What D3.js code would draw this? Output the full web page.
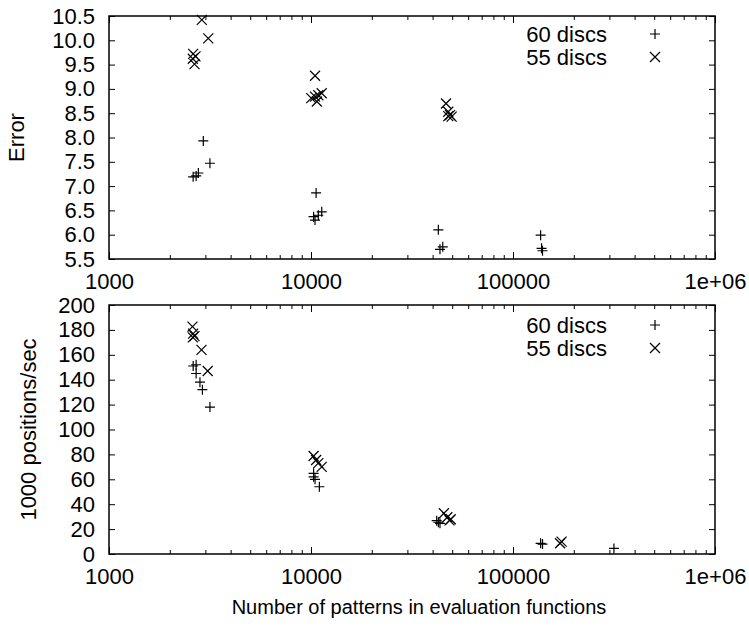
<!DOCTYPE html>
<html>
<head>
<meta charset="utf-8">
<script src="https://cdn.jsdelivr.net/npm/d3@7"></script>
<style>
  html, body { margin: 0; padding: 0; background: #fff; }
  svg { display: block; }
  text { font-family: "Liberation Sans", Arial, Helvetica, sans-serif; fill: #000; }
</style>
</head>
<body>
<svg id="chart" width="749" height="628"></svg>
<script>
// ---------------- data ----------------
const xTickValues = [1000, 10000, 100000, 1000000];
const xTickLabels = ["1000", "10000", "100000", "1e+06"];
const errTickValues = [5.5, 6.0, 6.5, 7.0, 7.5, 8.0, 8.5, 9.0, 9.5, 10.0, 10.5];
const errTickLabels = ["5.5", "6.0", "6.5", "7.0", "7.5", "8.0", "8.5", "9.0", "9.5", "10.0", "10.5"];
const speedTickValues = [0, 20, 40, 60, 80, 100, 120, 140, 160, 180, 200];
const speedTickLabels = ["0", "20", "40", "60", "80", "100", "120", "140", "160", "180", "200"];
const seriesNames = ["60 discs", "55 discs"];
const xLabel = "Number of patterns in evaluation functions";
const errLabel = "Error";
const speedLabel = "1000 positions/sec";

// Error plot: [patterns, error]
const err60 = [
  [2930, 7.93], [3160, 7.47], [2610, 7.19], [2700, 7.21], [2770, 7.27],
  [10600, 6.86], [10300, 6.37], [10470, 6.30], [10870, 6.40], [11300, 6.47],
  [42700, 6.10], [43500, 5.70], [44900, 5.75],
  [137000, 5.99], [138500, 5.72], [140000, 5.67]
];
const err55 = [
  [2880, 10.42], [3100, 10.04], [2610, 9.72], [2680, 9.67], [2600, 9.62], [2650, 9.51],
  [10470, 9.27], [10030, 8.81], [10470, 8.84], [10870, 8.87], [11300, 8.91], [10690, 8.74],
  [46600, 8.70], [47800, 8.53], [48800, 8.46], [49700, 8.43], [47800, 8.44]
];
// Speed plot: [patterns, 1000 positions/sec]
const speed60 = [
  [2610, 151], [2700, 152], [2700, 145], [2820, 138], [2900, 132], [3160, 118],
  [10300, 64.8], [10300, 62], [10470, 60], [11000, 54],
  [41900, 26.8], [43500, 24.6], [42700, 25.5],
  [137000, 8.6], [140000, 8.0],
  [316000, 4.5]
];
const speed55 = [
  [2590, 182.6], [2610, 177], [2650, 175], [2600, 174], [2870, 164], [3080, 147],
  [10300, 78.7], [10600, 75.5], [10870, 73], [11300, 70],
  [45500, 32.7], [47300, 29.5], [49200, 27.9], [48500, 27],
  [171000, 8.6], [174000, 10]
];

// ---------------- drawing ----------------
const svg = d3.select("#chart");
const L = 109, R = 715;
const FONT = 22;

const x = d3.scaleLog().domain([1000, 1000000]).range([L, R]);
const minorX = [];
[1000, 10000, 100000].forEach(b => { for (let k = 2; k <= 9; k++) minorX.push(b * k); });

function plus(g, px, py, s) {
  g.append("path").attr("d", `M${px - s},${py}H${px + s}M${px},${py - s}V${py + s}`)
    .attr("stroke", "#000").attr("stroke-width", 1.2).attr("fill", "none");
}
function cross(g, px, py, s) {
  g.append("path").attr("d", `M${px - s},${py - s}L${px + s},${py + s}M${px - s},${py + s}L${px + s},${py - s}`)
    .attr("stroke", "#000").attr("stroke-width", 1.2).attr("fill", "none");
}

function panel(opts) {
  const { top, bottom, yDomain, yTicks, yLabels, ylab, ylabX, d60, d55, legendY } = opts;
  const y = d3.scaleLinear().domain(yDomain).range([bottom, top]);
  const g = svg.append("g");

  // bottom axis with labels
  const bx = g.append("g").attr("transform", `translate(0,${bottom})`)
    .call(d3.axisBottom(x).tickValues(xTickValues).tickSizeInner(-7).tickSizeOuter(0)
      .tickPadding(14).tickFormat((d, i) => xTickLabels[i]));
  bx.selectAll("text").attr("font-size", FONT).attr("font-family", "Liberation Sans, Arial, sans-serif");
  g.append("g").attr("transform", `translate(0,${bottom})`)
    .call(d3.axisBottom(x).tickValues(minorX).tickSizeInner(-4).tickSizeOuter(0).tickFormat(""));
  // top mirror
  g.append("g").attr("transform", `translate(0,${top})`)
    .call(d3.axisTop(x).tickValues(xTickValues).tickSizeInner(-7).tickSizeOuter(0).tickFormat(""));
  g.append("g").attr("transform", `translate(0,${top})`)
    .call(d3.axisTop(x).tickValues(minorX).tickSizeInner(-4).tickSizeOuter(0).tickFormat(""));
  // left axis with labels
  const ly = g.append("g").attr("transform", `translate(${L},0)`)
    .call(d3.axisLeft(y).tickValues(yTicks).tickSizeInner(-6).tickSizeOuter(0)
      .tickPadding(14).tickFormat((d, i) => yLabels[i]));
  ly.selectAll("text").attr("font-size", FONT).attr("font-family", "Liberation Sans, Arial, sans-serif");
  // right mirror
  g.append("g").attr("transform", `translate(${R},0)`)
    .call(d3.axisRight(y).tickValues(yTicks).tickSizeInner(-6).tickSizeOuter(0).tickFormat(""));
  g.selectAll(".domain").remove();
  g.selectAll(".tick line").attr("stroke", "#000").attr("stroke-width", 1);

  // frame
  g.append("rect").attr("x", L).attr("y", top).attr("width", R - L).attr("height", bottom - top)
    .attr("fill", "none").attr("stroke", "#000").attr("stroke-width", 1.5);

  // y label
  g.append("text").attr("transform", `translate(${ylabX},${(top + bottom) / 2}) rotate(-90)`)
    .attr("text-anchor", "middle").attr("dominant-baseline", "central")
    .attr("font-size", FONT).text(ylab);

  // points
  const pg = g.append("g");
  d60.forEach(d => plus(pg, x(d[0]), y(d[1]), 5));
  d55.forEach(d => cross(pg, x(d[0]), y(d[1]), 5));

  // legend
  seriesNames.forEach((name, i) => {
    const ly2 = legendY + i * 23;
    g.append("text").attr("x", 607).attr("y", ly2).attr("text-anchor", "end")
      .attr("dominant-baseline", "central").attr("font-size", FONT).text(name);
    if (i === 0) plus(g, 655, ly2, 5); else cross(g, 655, ly2, 5);
  });
}

panel({ top: 16, bottom: 259, yDomain: [5.5, 10.5], yTicks: errTickValues, yLabels: errTickLabels,
  ylab: errLabel, ylabX: 16, d60: err60, d55: err55, legendY: 34 });
panel({ top: 305, bottom: 554, yDomain: [0, 200], yTicks: speedTickValues, yLabels: speedTickLabels,
  ylab: speedLabel, ylabX: 28, d60: speed60, d55: speed55, legendY: 325 });

svg.append("text").attr("x", (L + R) / 2 + 7).attr("y", 607).attr("text-anchor", "middle")
  .attr("dominant-baseline", "central").attr("font-size", 20).text(xLabel);
</script>
</body>
</html>
